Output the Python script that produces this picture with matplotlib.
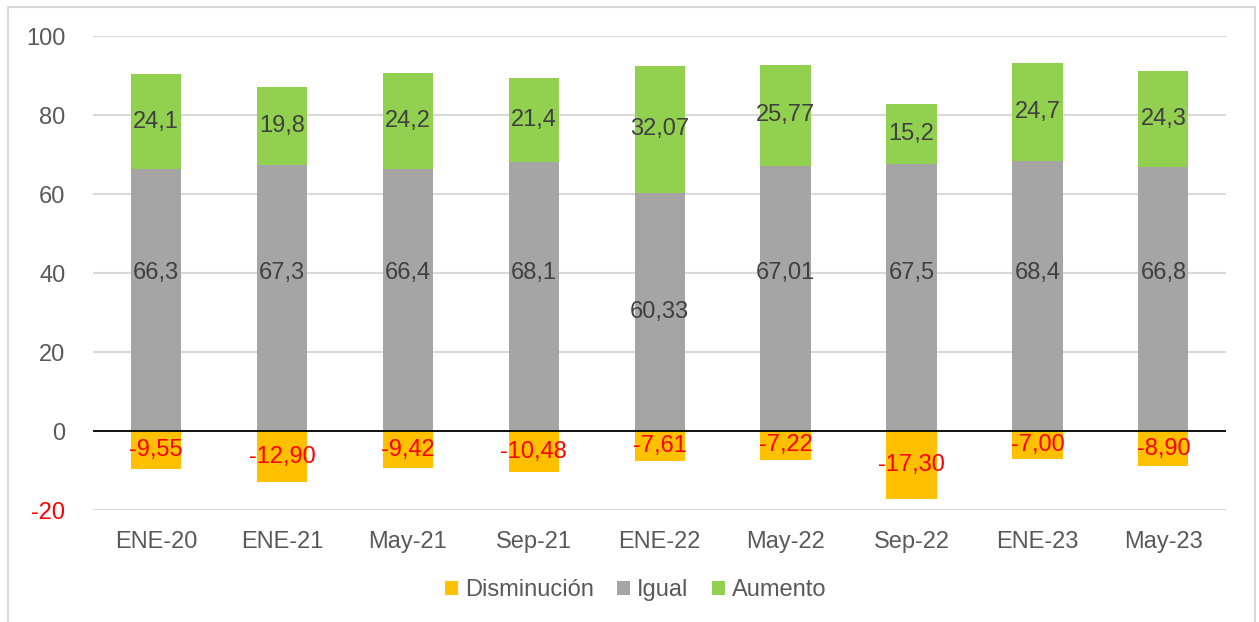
import matplotlib
matplotlib.use("Agg")
import matplotlib.pyplot as plt
import numpy as np
from matplotlib.patches import Rectangle

plt.rcParams['font.family'] = ['Liberation Sans', 'DejaVu Sans']

categories = ["ENE-20", "ENE-21", "May-21", "Sep-21", "ENE-22", "May-22", "Sep-22", "ENE-23", "May-23"]
disminucion = [-9.55, -12.90, -9.42, -10.48, -7.61, -7.22, -17.30, -7.00, -8.90]
igual = [66.3, 67.3, 66.4, 68.1, 60.33, 67.01, 67.5, 68.4, 66.8]
aumento = [24.1, 19.8, 24.2, 21.4, 32.07, 25.77, 15.2, 24.7, 24.3]
dis_labels = ["-9,55", "-12,90", "-9,42", "-10,48", "-7,61", "-7,22", "-17,30", "-7,00", "-8,90"]
igual_labels = ["66,3", "67,3", "66,4", "68,1", "60,33", "67,01", "67,5", "68,4", "66,8"]
aum_labels = ["24,1", "19,8", "24,2", "21,4", "32,07", "25,77", "15,2", "24,7", "24,3"]

c_dis = "#FFC000"
c_ig = "#A5A5A5"
c_au = "#92D050"

fig = plt.figure(figsize=(12.59, 6.22), dpi=100)
ax = fig.add_axes([0.074, 0.18, 0.9, 0.762])

x = np.arange(len(categories))
w = 0.4
ax.bar(x, disminucion, w, color=c_dis, label="Disminución", zorder=2)
ax.bar(x, igual, w, color=c_ig, label="Igual", zorder=2)
ax.bar(x, aumento, w, bottom=igual, color=c_au, label="Aumento", zorder=2)

fs = 17
for i in range(len(x)):
    ax.text(x[i], disminucion[i] / 2, dis_labels[i], ha="center", va="center", color="#FF0000", fontsize=fs, zorder=3)
    # gray labels: most were placed near 40 in the original, ENE-22 is centred
    gy = igual[i] / 2 if i == 4 else 40.0
    ax.text(x[i], gy, igual_labels[i], ha="center", va="center", color="#404040", fontsize=fs, zorder=3)
    ax.text(x[i], igual[i] + aumento[i] / 2, aum_labels[i], ha="center", va="center", color="#404040", fontsize=fs, zorder=3)

ax.set_xlim(-0.5, len(x) - 0.5)
ax.set_ylim(-20, 100)
ax.set_yticks([-20, 0, 20, 40, 60, 80, 100])
ax.set_yticklabels(["-20", "0", "20", "40", "60", "80", "100"])
ax.set_xticks(x)
ax.set_xticklabels(categories)
ax.tick_params(axis="both", length=0, labelsize=fs, colors="#595959")
for t in ax.get_yticklabels():
    t.set_color("#FF0000" if t.get_text().startswith("-") else "#595959")
ax.tick_params(axis="y", pad=20)
ax.tick_params(axis="x", pad=15)
ax.yaxis.grid(True, color="#D9D9D9", linewidth=1.5, zorder=0)
ax.set_axisbelow(True)
for s in ax.spines.values():
    s.set_visible(False)
ax.axhline(0, color="black", linewidth=1.3, zorder=4)

leg = fig.legend(loc="center", bbox_to_anchor=(0.505, 0.051), ncol=3, frameon=False,
                 fontsize=fs, handlelength=0.55, handleheight=0.55, handletextpad=0.3,
                 columnspacing=1.0, labelcolor="#595959")

fig.patches.append(Rectangle((8 / 1259, -0.01), (1255 - 8) / 1259, 1 - 7 / 622 + 0.01,
                             transform=fig.transFigure, fill=False, edgecolor="#D9D9D9", linewidth=1.5))

fig.savefig("out.png", dpi=100)
